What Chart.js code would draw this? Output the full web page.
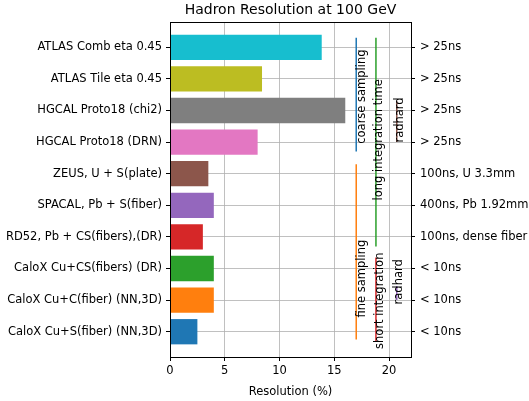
<!DOCTYPE html>
<html>
<head>
<meta charset="utf-8">
<script src="https://cdn.jsdelivr.net/npm/chart.js@4/dist/chart.umd.min.js"></script>
<style>
  html, body { margin: 0; padding: 0; background: #fff; }
  #wrap { width: 529px; height: 401px; }
</style>
</head>
<body>
<div id="wrap"><canvas id="bar-chart"></canvas></div>
<script>
// detectors, top to bottom
let detectors = [
    "ATLAS Comb eta 0.45",
    "ATLAS Tile eta 0.45",
    "HGCAL Proto18 (chi2)",
    "HGCAL Proto18 (DRN)",
    "ZEUS, U + S(plate)",
    "SPACAL, Pb + S(fiber)",
    "RD52, Pb + CS(fibers),(DR)",
    "CaloX Cu+CS(fibers) (DR)",
    "CaloX Cu+C(fiber) (NN,3D)",
    "CaloX Cu+S(fiber) (NN,3D)"
]
let resolution = [13.85, 8.4, 16.0, 8.0, 3.5, 4.0, 3.0, 4.0, 4.0, 2.5]
let timing = [
    "> 25ns", "> 25ns", "> 25ns", "> 25ns",
    "100ns, U 3.3mm", "400ns, Pb 1.92mm", "100ns, dense fiber",
    "< 10ns", "< 10ns", "< 10ns"
]
let barColors = ["#17becf", "#bcbd22", "#7f7f7f", "#e377c2", "#8c564b",
                 "#9467bd", "#d62728", "#2ca02c", "#ff7f0e", "#1f77b4"]

// grouping brackets (x in %, from/to in row index)
let spanNames = ["coarse sampling", "long integration time", "radhard",
                 "fine sampling", "short integration", "radhard"]
let spanX = [17.0, 18.8, 20.7, 17.0, 18.8, 20.7]
let spanFrom = [-0.3, -0.3, 1.7, 3.7, 6.65, 7.55]
let spanTo = [3.3, 6.3, 3.0, 9.25, 9.3, 8.0]
let spanLabelX = [17.55, 19.1, 21.0, 17.5, 19.2, 20.9]
let spanLabelY = [1.56, 2.93, 2.3, 7.32, 8.02, 7.42]
let spanColors = ["#1f77b4", "#2ca02c", "#8c564b", "#ff7f0e", "#d62728", "#9467bd"]

let chartTitle = "Hadron Resolution at 100 GeV"

const FONT = "'DejaVu Sans', sans-serif"
const FS = 11.5
Chart.defaults.font.family = FONT
Chart.defaults.font.size = FS
Chart.defaults.color = "#000"

let datasets = [{
    type: 'bar',
    data: detectors.map((d, i) => ({x: resolution[i], y: i})),
    backgroundColor: barColors,
    barPercentage: 0.8,
    categoryPercentage: 1.0,
    xAxisID: 'x',
    yAxisID: 'y'
}]

for (var i = 0; i < spanNames.length; i++) {
    datasets.push({
        type: 'line',
        data: [{x: spanX[i], y: spanFrom[i]}, {x: spanX[i], y: spanTo[i]}],
        borderColor: spanColors[i],
        borderWidth: 1.5,
        pointRadius: 0,
        fill: false,
        xAxisID: 'x',
        yAxisID: 'y'
    })
}

// title over the axes, rotated labels next to the brackets, box around the axes
const extras = {
    id: 'extras',
    afterDraw(c) {
        const ctx = c.ctx, a = c.chartArea
        const sx = c.scales.x, sy = c.scales.y
        ctx.save()
        ctx.fillStyle = "#000"
        ctx.textAlign = "center"
        ctx.textBaseline = "middle"
        ctx.font = "14px " + FONT
        ctx.fillText(chartTitle, (a.left + a.right) / 2, 10.5)
        ctx.font = FS + "px " + FONT
        for (var i = 0; i < spanNames.length; i++) {
            ctx.save()
            ctx.translate(sx.getPixelForValue(spanLabelX[i]), sy.getPixelForValue(spanLabelY[i]))
            ctx.rotate(-Math.PI / 2)
            ctx.fillText(spanNames[i], 0, 0)
            ctx.restore()
        }
        ctx.strokeStyle = "#000"
        ctx.lineWidth = 1
        ctx.strokeRect(Math.round(a.left) + 0.5, Math.round(a.top) + 0.5,
                       Math.round(a.right - a.left), Math.round(a.bottom - a.top))
        ctx.restore()
    }
}

let rowTicks = s => { s.ticks = detectors.map((d, i) => ({value: i})) }

new Chart(document.getElementById("bar-chart"), {
    type: 'bar',
    data: { datasets: datasets },
    plugins: [extras],
    options: {
        indexAxis: 'y',
        responsive: true,
        maintainAspectRatio: false,
        animation: false,
        layout: { padding: { top: 22, left: 0, right: 0, bottom: 0 } },
        plugins: {
            legend: { display: false },
            tooltip: { enabled: false },
            title: { display: false }
        },
        scales: {
            x: {
                type: 'linear',
                position: 'bottom',
                min: 0,
                max: 22,
                offset: false,
                beginAtZero: false,
                z: 1,
                ticks: { stepSize: 5, includeBounds: false, padding: 3, color: '#000' },
                grid: { offset: false, color: '#b0b0b0', lineWidth: 0.8, tickColor: '#000', tickLength: 4, tickWidth: 1 },
                border: { color: '#000', width: 1 },
                title: { display: true, text: 'Resolution (%)', color: '#000', padding: { top: 2, bottom: 2 } },
                afterFit: s => { s.height = 44 }
            },
            y: {
                type: 'linear',
                position: 'left',
                reverse: true,
                min: -0.8,
                max: 9.8,
                offset: false,
                z: 1,
                afterBuildTicks: rowTicks,
                ticks: { autoSkip: false, padding: 4, color: '#000', callback: v => detectors[v] },
                grid: { offset: false, color: '#b0b0b0', lineWidth: 0.8, tickColor: '#000', tickLength: 4, tickWidth: 1 },
                border: { color: '#000', width: 1 },
                afterFit: s => { s.width = 170 }
            },
            y2: {
                type: 'linear',
                position: 'right',
                reverse: true,
                min: -0.8,
                max: 9.8,
                offset: false,
                z: 1,
                afterBuildTicks: rowTicks,
                ticks: { autoSkip: false, padding: 5, color: '#000', callback: v => timing[v] },
                grid: { offset: false, drawOnChartArea: false, tickColor: '#000', tickLength: 4, tickWidth: 1 },
                border: { color: '#000', width: 1 },
                afterFit: s => { s.width = 118 }
            }
        }
    }
})
</script>
</body>
</html>
